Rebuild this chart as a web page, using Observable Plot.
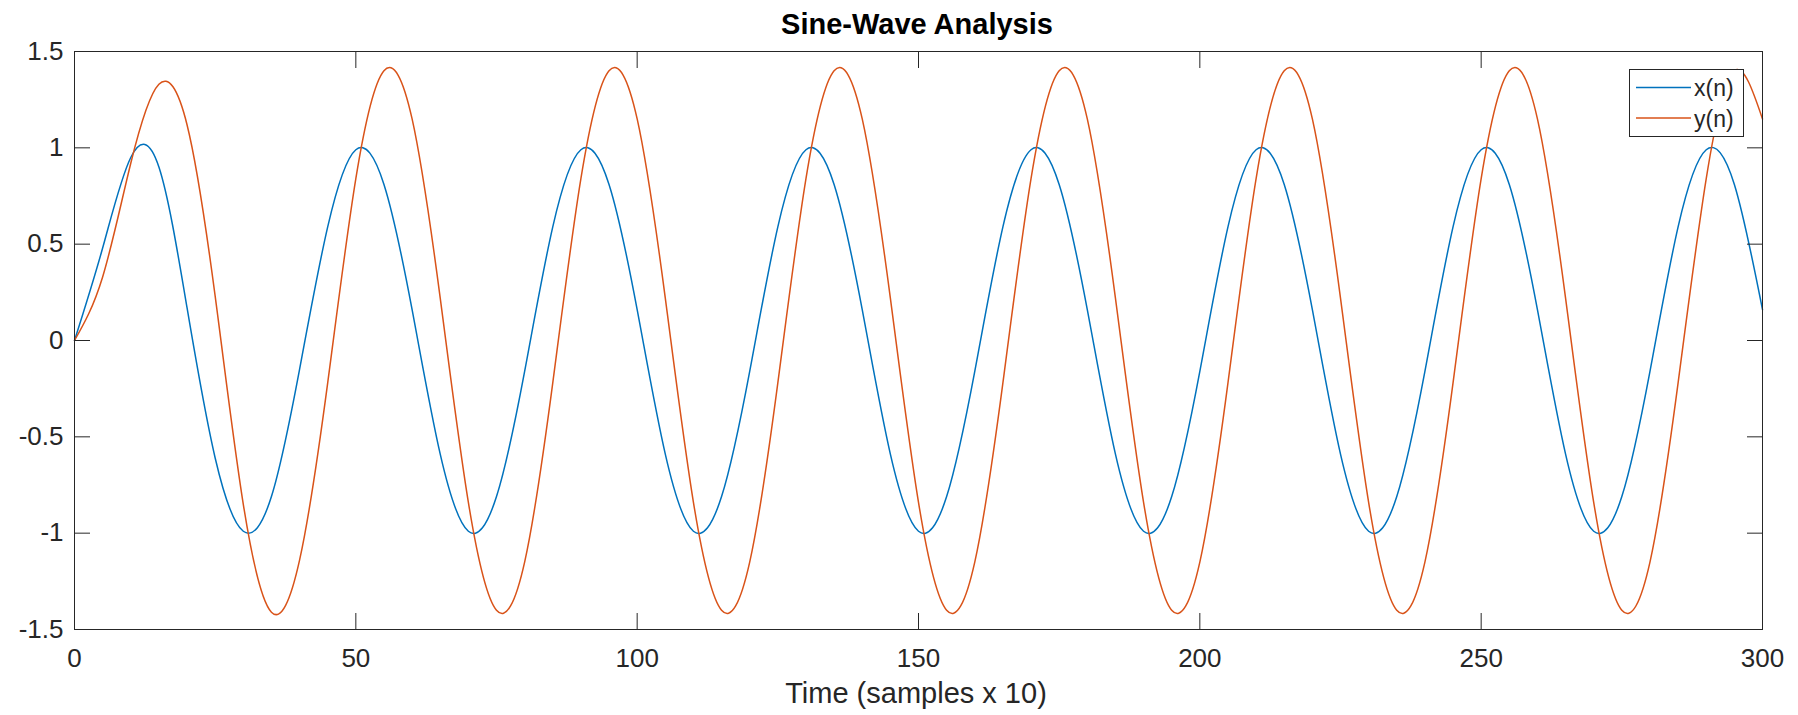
<!DOCTYPE html>
<html><head><meta charset="utf-8">
<script src="https://cdn.jsdelivr.net/npm/d3@7"></script>
<script src="https://cdn.jsdelivr.net/npm/@observablehq/plot@0.6"></script>
<style>
body{margin:0;background:#fff;}
#wrap{position:relative;width:1798px;height:715px;font-family:"Liberation Sans",Arial,Helvetica,sans-serif;}
#chart{position:absolute;left:0;top:0;}
#overlay{position:absolute;left:0;top:0;pointer-events:none;}
</style></head>
<body>
<div id="wrap"><div id="chart"></div>
<svg id="overlay" width="1798" height="715" font-family="Liberation Sans, Arial, Helvetica, sans-serif">
  <text x="917" y="34" text-anchor="middle" font-weight="bold" font-size="29" fill="#000">Sine-Wave Analysis</text>
  <text x="916" y="703" text-anchor="middle" font-size="29" fill="#262626">Time (samples x 10)</text>
  <g id="legend"></g>
</svg>
</div>
<script>
// sample index (time axis)
const sampleN = [0,5,10,15,20,25,30,35,40,45,50,55,60,65,70,75,80,85,90,95,100,105,110,115,120,125,130,135,140,145,150,155,160,165,170,175,180,185,190,195,200,205,210,215,220,225,230,235,240,245,250,255,260,265,270,275,280,285,290,295,300];
// x(n) values
const seriesX = [0, 0.48, 0.95, 0.90, 0.17, -0.61, -0.99, -0.81, -0.15,
  0.59, 0.99, 0.81, 0.16, -0.59, -0.99, -0.81, -0.16,
  0.59, 0.99, 0.81, 0.16, -0.59, -0.99, -0.81, -0.16,
  0.59, 0.99, 0.81, 0.16, -0.59, -0.99, -0.81, -0.16,
  0.59, 0.99, 0.81, 0.16, -0.59, -0.99, -0.81, -0.16,
  0.59, 0.99, 0.81, 0.16, -0.59, -0.99, -0.81, -0.16,
  0.59, 0.99, 0.81, 0.16, -0.59, -0.99, -0.81, -0.16,
  0.59, 0.99, 0.81, 0.16];
// y(n) values
const seriesY = [0, 0.33, 0.92, 1.33, 1.12, 0.23, -0.85, -1.41, -1.14,
  -0.22, 0.84, 1.40, 1.15, 0.22, -0.84, -1.40, -1.15,
  -0.22, 0.84, 1.40, 1.15, 0.22, -0.84, -1.40, -1.15,
  -0.22, 0.84, 1.40, 1.15, 0.22, -0.84, -1.40, -1.15,
  -0.22, 0.84, 1.40, 1.15, 0.22, -0.84, -1.40, -1.15,
  -0.22, 0.84, 1.40, 1.15, 0.22, -0.84, -1.40, -1.15,
  -0.22, 0.84, 1.40, 1.15, 0.22, -0.84, -1.40, -1.15,
  -0.22, 0.84, 1.40, 1.15];
const xTicks = [0, 50, 100, 150, 200, 250, 300];
const yTicks = [-1.5, -1, -0.5, 0, 0.5, 1, 1.5];
const seriesNames = ["x(n)", "y(n)"];
const seriesColors = ["#0072BD", "#D95319"];

const rows = sampleN.map((n, i) => ({n, xv: seriesX[i], yv: seriesY[i]}));
const fmt = d => String(d);
const blank = () => "";

const chart = Plot.plot({
  width: 1798, height: 715,
  marginLeft: 74, marginRight: 36, marginTop: 51, marginBottom: 86,
  style: {fontFamily: "Liberation Sans, Arial, Helvetica, sans-serif", fontSize: "26px", color: "#262626", background: "white"},
  x: {domain: [0, 300]},
  y: {domain: [-1.5, 1.5]},
  marks: [
    Plot.line(rows, {x: "n", y: "xv", stroke: seriesColors[0], strokeWidth: 1.5, curve: "natural"}),
    Plot.line(rows, {x: "n", y: "yv", stroke: seriesColors[1], strokeWidth: 1.5, curve: "natural"}),
    Plot.frame({stroke: "#262626", strokeWidth: 1}),
    Plot.axisX(xTicks, {anchor: "bottom", tickSize: -16, tickPadding: 35.5, label: null, fontSize: 26, tickFormat: fmt}),
    Plot.axisX(xTicks, {anchor: "top", tickSize: -16, tickFormat: blank, label: null}),
    Plot.axisY(yTicks, {anchor: "left", tickSize: -16, tickPadding: 27, label: null, fontSize: 26, tickFormat: fmt}),
    Plot.axisY(yTicks, {anchor: "right", tickSize: -16, tickFormat: blank, label: null})
  ]
});
document.getElementById("chart").appendChild(chart);

// legend
const ns = "http://www.w3.org/2000/svg";
const lg = document.getElementById("legend");
const box = document.createElementNS(ns, "rect");
box.setAttribute("x", 1629.5); box.setAttribute("y", 69.5);
box.setAttribute("width", 114); box.setAttribute("height", 67);
box.setAttribute("fill", "#fff"); box.setAttribute("stroke", "#262626"); box.setAttribute("stroke-width", 1);
lg.appendChild(box);
seriesNames.forEach((name, i) => {
  const yy = 87.5 + i * 30.5;
  const ln = document.createElementNS(ns, "line");
  ln.setAttribute("x1", 1636); ln.setAttribute("x2", 1691);
  ln.setAttribute("y1", yy); ln.setAttribute("y2", yy);
  ln.setAttribute("stroke", seriesColors[i]); ln.setAttribute("stroke-width", 1.5);
  lg.appendChild(ln);
  const tx = document.createElementNS(ns, "text");
  tx.setAttribute("x", 1694); tx.setAttribute("y", yy + 8.5);
  tx.setAttribute("font-size", 23); tx.setAttribute("fill", "#262626");
  tx.textContent = name;
  lg.appendChild(tx);
});
</script>
</body></html>
